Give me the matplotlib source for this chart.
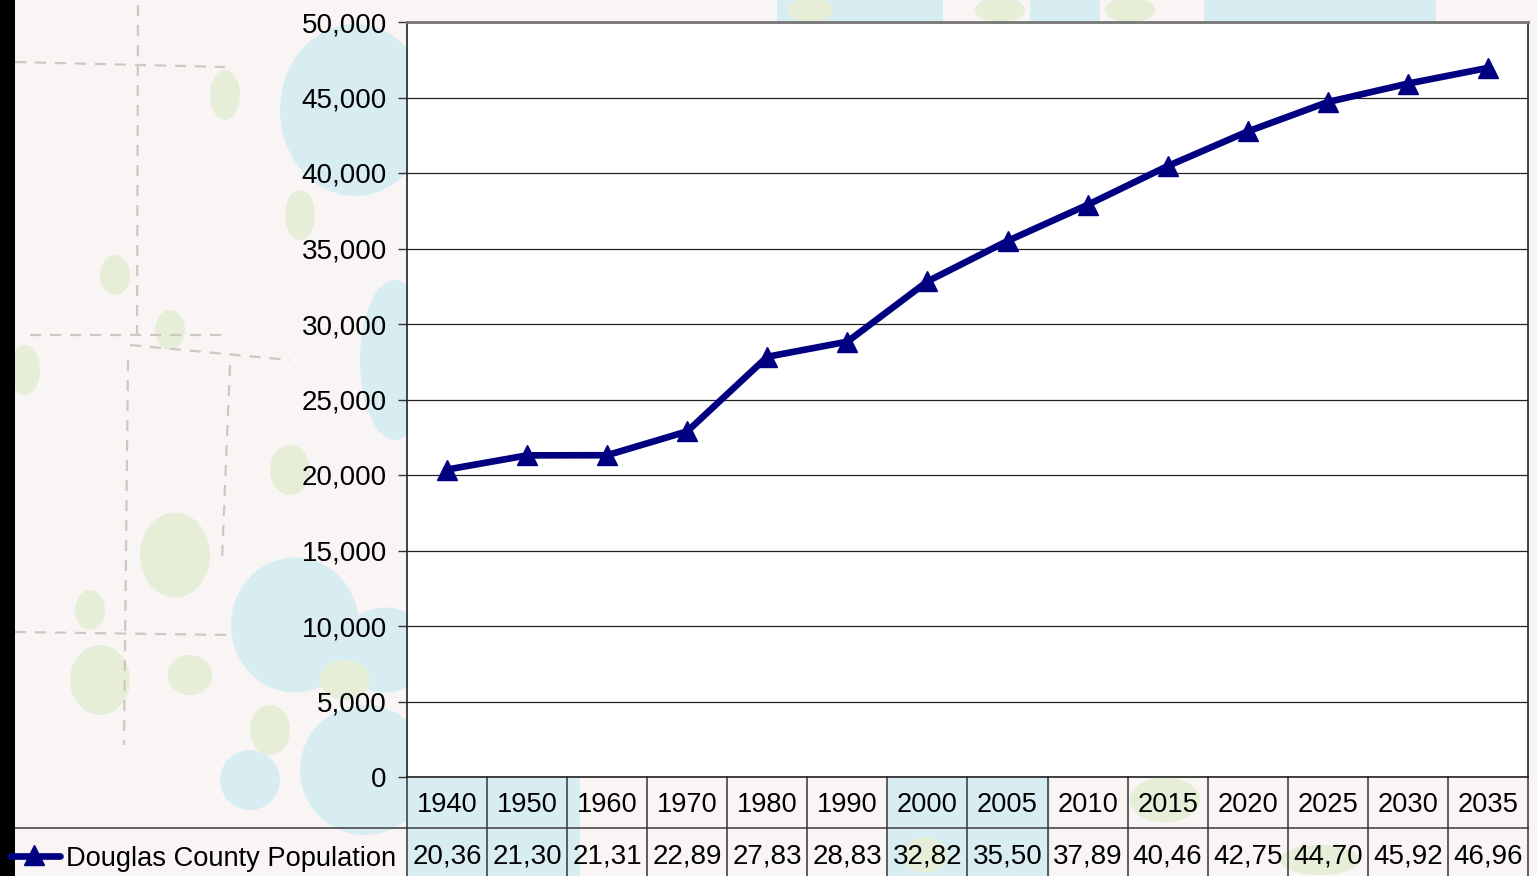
import matplotlib
matplotlib.use("Agg")
import matplotlib.pyplot as plt
from matplotlib.patches import Ellipse, Rectangle

plt.rcParams['font.family'] = ['Liberation Sans', 'DejaVu Sans']

years = ['1940','1950','1960','1970','1980','1990','2000','2005','2010','2015','2020','2025','2030','2035']
population = [20360,21300,21310,22890,27830,28830,32820,35500,37890,40460,42750,44700,45920,46960]
value_labels = ['20,36','21,30','21,31','22,89','27,83','28,83','32,82','35,50','37,89','40,46','42,75','44,70','45,92','46,96']
series_name = 'Douglas County Population'
y_ticks = [0,5000,10000,15000,20000,25000,30000,35000,40000,45000,50000]

W, H = 1537, 876
fig = plt.figure(figsize=(W/100, H/100), dpi=100)

# backdrop (pale map) in pixel coordinates
bg = fig.add_axes([0, 0, 1, 1])
bg.set_xlim(0, W); bg.set_ylim(H, 0); bg.axis('off')
bg.add_patch(Rectangle((0, 0), W, H, color='#f9f5f5', zorder=0))
LAKE = '#d8edf1'
GREEN = '#e6eed8'
for cx, cy, w, h in [(355,110,150,172),(295,625,128,135),(385,650,90,85),(365,770,130,130),
                     (395,360,70,160),(250,780,60,60)]:
    bg.add_patch(Ellipse((cx, cy), w, h, color=LAKE, lw=0, zorder=1))
for x0, y0, x1, y1 in [(407,777,580,876),(888,777,1050,876),(777,0,943,22),(1030,0,1100,22),(1204,0,1436,22)]:
    bg.add_patch(Rectangle((x0, y0), x1-x0, y1-y0, color=LAKE, lw=0, zorder=1))
for cx, cy, w, h in [(225,95,30,50),(115,275,30,40),(170,330,30,40),(175,555,70,85),(25,370,30,50),
                     (90,610,30,40),(100,680,60,70),(190,675,45,40),(1165,800,70,45),(1320,860,80,30),
                     (290,470,40,50),(300,215,30,50),(345,680,50,40),(270,730,40,50),(925,855,45,35),
                     (810,10,45,25),(1000,10,50,25),(1130,10,50,25)]:
    bg.add_patch(Ellipse((cx, cy), w, h, color=GREEN, lw=0, zorder=1))
for x0, y0, x1, y1 in [(138,5,137,340),(15,62,225,67),(30,335,230,335),(130,345,290,360),
                       (128,360,124,745),(230,365,222,560),(15,632,230,635)]:
    bg.plot([x0, x1], [y0, y1], color='#cfc7c4', lw=1.6, ls=(0, (5, 4)), zorder=2)
bg.add_patch(Rectangle((0, 0), 14.5, H, color='black', lw=0, zorder=5))

# main chart
left, right, top, bottom = 407, 1528, 22, 777
ax = fig.add_axes([left/W, 1-bottom/H, (right-left)/W, (bottom-top)/H])
ax.set_facecolor('white')
ax.set_xlim(0, len(years))
ax.set_ylim(0, 50000)
ax.set_yticks(y_ticks)
ax.set_yticklabels([f'{v:,}' for v in y_ticks], fontsize=20, color='black')
ax.tick_params(axis='y', length=6.5, width=1, color='#333333', pad=8)
ax.set_xticks([])
ax.grid(axis='y', color='#222222', lw=0.9)
ax.set_axisbelow(True)
for s in ('left', 'bottom', 'right'):
    ax.spines[s].set_color('#222222'); ax.spines[s].set_linewidth(1.2)
ax.spines['top'].set_color('#777777'); ax.spines['top'].set_linewidth(2)

xs = [i + 0.5 for i in range(len(years))]
ax.plot(xs, population, color='#000080', lw=4.8, marker='^', ms=14,
        solid_joinstyle='round', clip_on=False, zorder=5)

# data table below the axes
tr = ax.get_xaxis_transform()
px_y = lambda p: (bottom - p) / (bottom - top)
for i, (yr, lab) in enumerate(zip(years, value_labels)):
    ax.text(i + 0.5, px_y(804.5), yr, transform=tr, ha='center', va='center', fontsize=19.6, clip_on=False)
    ax.text(i + 0.5, px_y(856.5), lab, transform=tr, ha='center', va='center', fontsize=20, clip_on=False)
for i in range(len(years) + 1):
    ax.plot([i, i], [px_y(777), px_y(876)], transform=tr, color='#333333', lw=1.1, clip_on=False)
bg.plot([14.5, right], [828, 828], color='#555555', lw=1.3, zorder=4)

# legend key
bg.plot([10, 60], [856, 856], color='#000080', lw=4.8, solid_capstyle='round', zorder=6)
bg.plot([34], [855], color='#000080', marker='^', ms=14, zorder=6)
bg.text(66, 858.5, series_name, ha='left', va='center', fontsize=19.6, color='black', zorder=6)

fig.savefig('out.png', dpi=100)
